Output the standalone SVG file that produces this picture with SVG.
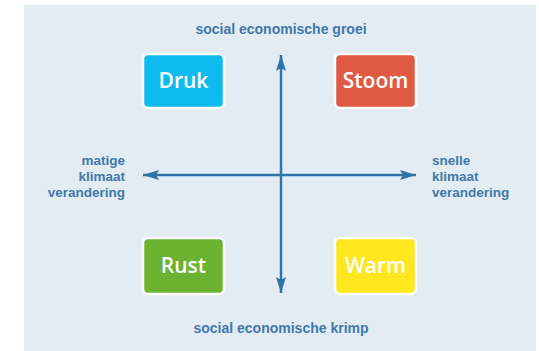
<svg xmlns="http://www.w3.org/2000/svg" width="539" height="351" viewBox="0 0 539 351">
<defs>
<style>
.lbl{font-family:"Liberation Sans",Arial,sans-serif;font-weight:bold;font-size:13.5px;fill:#3f79aa}
.ttl{font-size:14px}
.box{stroke:#ffffff;stroke-width:2.5}
.bt{font-family:"Open Sans","Liberation Sans",Arial,sans-serif;font-weight:600;font-size:21px;fill:#ffffff;text-anchor:middle}
.ax{stroke:#2e74a8;stroke-width:2.5;fill:none}
</style>
<marker id="ah" viewBox="0 0 16 10" refX="16" refY="5" markerWidth="16" markerHeight="10" markerUnits="userSpaceOnUse" orient="auto">
<path d="M0,0 L16,5 L0,10 L3,5 Z" fill="#2e74a8"/>
</marker>
</defs>
<rect x="24" y="5" width="512" height="346" fill="#e3ecf2"/>
<g id="connectors">
<line class="ax" x1="281" y1="175" x2="281" y2="55" marker-end="url(#ah)"/>
<line class="ax" x1="281" y1="175" x2="281" y2="293" marker-end="url(#ah)"/>
<line class="ax" x1="281" y1="175" x2="143" y2="175" marker-end="url(#ah)"/>
<line class="ax" x1="281" y1="175" x2="416" y2="175" marker-end="url(#ah)"/>
</g>
<g id="druk"><rect class="box" x="143" y="54" width="81" height="54" rx="5" fill="#0dbbee"/><text class="bt" x="183.5" y="88">Druk</text></g>
<g id="stoom"><rect class="box" x="335" y="54" width="81" height="54" rx="5" fill="#e05a43"/><text class="bt" x="375.5" y="88">Stoom</text></g>
<g id="rust"><rect class="box" x="143" y="238" width="81" height="56" rx="5" fill="#6bb330"/><text class="bt" x="183.5" y="273">Rust</text></g>
<g id="warm"><rect class="box" x="335" y="238" width="81" height="56" rx="5" fill="#ffe61f"/><text class="bt" x="375.5" y="273">Warm</text></g>
<g id="top"><text class="lbl ttl" x="281" y="34" text-anchor="middle">social economische groei</text></g>
<g id="bottom"><text class="lbl ttl" x="281" y="333" text-anchor="middle">social economische krimp</text></g>
<g id="left"><text class="lbl" text-anchor="end"><tspan x="125" y="165">matige</tspan><tspan x="125" y="181">klimaat</tspan><tspan x="125" y="197">verandering</tspan></text></g>
<g id="right"><text class="lbl"><tspan x="432" y="165">snelle</tspan><tspan x="432" y="181">klimaat</tspan><tspan x="432" y="197">verandering</tspan></text></g>
</svg>
